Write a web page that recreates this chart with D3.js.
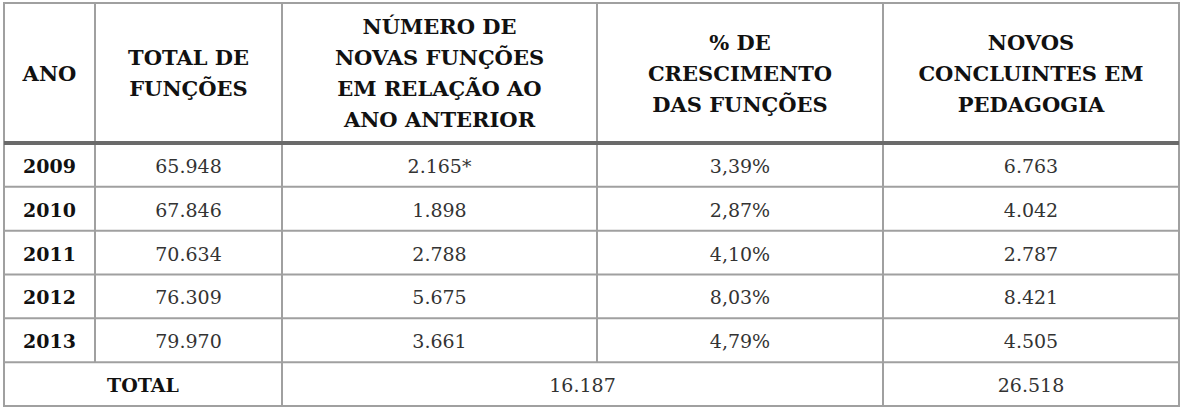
<!DOCTYPE html>
<html><head>
<script src="https://d3js.org/d3.v7.min.js"></script>
<style>
  body { margin: 0; background: #fff; }
  .grid { stroke: #a0a0a0; stroke-width: 2px; }
  .head { font-family: "DejaVu Serif", "Liberation Serif", serif; font-weight: bold; font-size: 21px; fill: #111; }
  .cell { font-family: "DejaVu Serif", "Liberation Serif", serif; font-size: 19px; fill: #333; }
  .year { font-family: "DejaVu Serif", "Liberation Serif", serif; font-weight: bold; font-size: 19px; fill: #111; }
</style>
</head><body>
<script>
// Data
const headers = [
  ["ANO"],
  ["TOTAL DE", "FUNÇÕES"],
  ["NÚMERO DE", "NOVAS FUNÇÕES", "EM RELAÇÃO AO", "ANO ANTERIOR"],
  ["% DE", "CRESCIMENTO", "DAS FUNÇÕES"],
  ["NOVOS", "CONCLUINTES EM", "PEDAGOGIA"]
]
const years = ["2009", "2010", "2011", "2012", "2013"]
const totalFuncoes = ["65.948", "67.846", "70.634", "76.309", "79.970"]
const novasFuncoes = ["2.165*", "1.898", "2.788", "5.675", "3.661"]
const crescimento = ["3,39%", "2,87%", "4,10%", "8,03%", "4,79%"]
const concluintes = ["6.763", "4.042", "2.787", "8.421", "4.505"]
const totalRow = ["TOTAL", "16.187", "26.518"]

const svg = d3.select("body").append("svg").attr("width", 1184).attr("height", 408)

// column edges
const colEdges = [4, 95, 282, 597, 883, 1179]
const headTop = 3, headBottom = 143, bottom = 406
const rowY = d3.scaleBand().domain(d3.range(6)).range([headBottom, bottom])
const colMid = i => (colEdges[i] + colEdges[i + 1]) / 2

// grid lines
const g = svg.append("g")
g.append("rect").attr("class", "grid").attr("fill", "none")
  .attr("x", colEdges[0]).attr("y", headTop)
  .attr("width", colEdges[5] - colEdges[0]).attr("height", bottom - headTop)
d3.range(1, 6).forEach(i => {
  g.append("line").attr("class", "grid")
    .attr("x1", colEdges[0]).attr("x2", colEdges[5])
    .attr("y1", rowY(i)).attr("y2", rowY(i))
})
// vertical lines (some do not cross the total row)
colEdges.slice(1, 5).forEach((x, i) => {
  const full = (i === 1 || i === 3)
  g.append("line").attr("class", "grid")
    .attr("x1", x).attr("x2", x)
    .attr("y1", headTop).attr("y2", full ? bottom : rowY(5))
})
// thick header separator
g.append("line").attr("stroke", "#6a6a6a").attr("stroke-width", 4)
  .attr("x1", colEdges[0]).attr("x2", colEdges[5])
  .attr("y1", headBottom).attr("y2", headBottom)

// header text
const lineH = 31
headers.forEach((lines, i) => {
  const startY = (headTop + headBottom) / 2 - (lines.length - 1) * lineH / 2
  lines.forEach((t, j) => {
    svg.append("text").attr("class", "head")
      .attr("x", colMid(i)).attr("y", startY + j * lineH)
      .attr("text-anchor", "middle").attr("dominant-baseline", "central")
      .text(t)
  })
})

// body rows
const columns = [years, totalFuncoes, novasFuncoes, crescimento, concluintes]
columns.forEach((col, c) => {
  svg.selectAll(null).data(col).join("text")
    .attr("class", c === 0 ? "year" : "cell")
    .attr("x", colMid(c))
    .attr("y", (d, r) => rowY(r) + rowY.bandwidth() / 2 + 1)
    .attr("text-anchor", "middle").attr("dominant-baseline", "central")
    .text(d => d)
})

// total row
const totalX = [(colEdges[0] + colEdges[2]) / 2, (colEdges[2] + colEdges[4]) / 2, colMid(4)]
totalRow.forEach((t, i) => {
  svg.append("text").attr("class", i === 0 ? "head" : "cell")
    .attr("x", totalX[i]).attr("y", rowY(5) + rowY.bandwidth() / 2 + 1)
    .attr("text-anchor", "middle").attr("dominant-baseline", "central")
    .style("font-size", "19px")
    .text(t)
})
</script>
</body></html>
